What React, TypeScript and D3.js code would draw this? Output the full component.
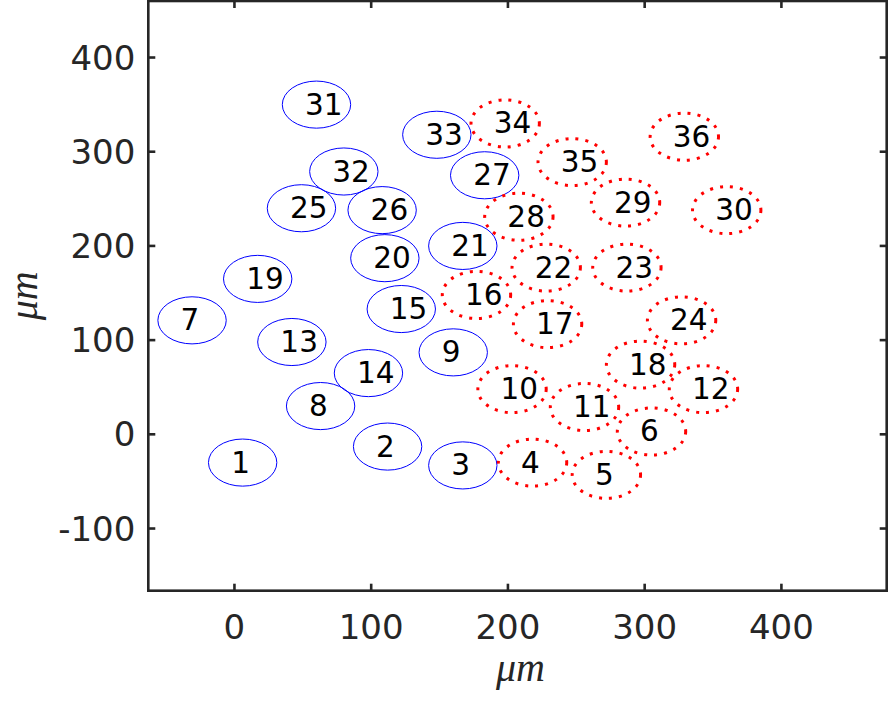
import React from 'react';
import * as d3 from 'd3';

// cell centres (µm)
const cellIds = [
  1, 2, 3, 4, 5, 6, 7, 8, 9, 10, 11, 12, 13, 14, 15, 16, 17, 18,
  19, 20, 21, 22, 23, 24, 25, 26, 27, 28, 29, 30, 31, 32, 33, 34, 35, 36,
];
const cellX = [
  6, 112, 167, 218, 272, 305, -31, 63, 160, 203, 256, 343, 42, 98, 122, 177, 229, 297,
  17, 110, 167, 228, 287, 327, 49, 108, 183, 208, 286, 360, 60, 80, 148, 198, 247, 329,
];
const cellY = [
  -30, -13, -33, -30, -43, 3, 121, 30, 87, 48, 29, 48, 98, 65, 133, 148, 117, 74,
  165, 187, 200, 177, 177, 121, 240, 238, 275, 231, 246, 238, 350, 279, 318, 330, 289, 316,
];
// 'a' = solid blue, 'b' = dotted red
const cellGroup = [
  'a', 'a', 'a', 'b', 'b', 'b', 'a', 'a', 'a', 'b', 'b', 'b', 'a', 'a', 'a', 'b', 'b', 'b',
  'a', 'a', 'a', 'b', 'b', 'b', 'a', 'a', 'a', 'b', 'b', 'b', 'a', 'a', 'a', 'b', 'b', 'b',
];
const cellRadius = 25;

const xTicks = [0, 100, 200, 300, 400];
const yTicks = [-100, 0, 100, 200, 300, 400];
const xDomain = [-63, 477];
const yDomain = [-166, 460];

export default function App() {
  const width = 891;
  const height = 703;
  const margin = { top: 1, right: 4.3, bottom: 112.3, left: 148.3 };
  const innerW = width - margin.left - margin.right;
  const innerH = height - margin.top - margin.bottom;

  const x = d3.scaleLinear().domain(xDomain).range([0, innerW]);
  const y = d3.scaleLinear().domain(yDomain).range([innerH, 0]);

  const axisColor = '#262626';
  const tickLen = 7;
  const font = 'DejaVu Sans, sans-serif';

  const cells = cellIds.map((id, i) => ({
    id,
    cx: x(cellX[i]),
    cy: y(cellY[i]),
    rx: x(cellX[i] + cellRadius) - x(cellX[i]),
    ry: y(cellY[i]) - y(cellY[i] + cellRadius),
    group: cellGroup[i],
  }));

  return (
    <svg
      width={width}
      height={height}
      style={{ position: 'absolute', left: 0, top: 0, background: '#fff' }}
    >
      <g transform={`translate(${margin.left},${margin.top})`}>
        {/* cells */}
        {cells.map(c => (
          <ellipse
            key={`e-${c.id}`}
            cx={c.cx}
            cy={c.cy}
            rx={c.rx}
            ry={c.ry}
            fill="none"
            stroke={c.group === 'a' ? '#0000ff' : '#ff0000'}
            strokeWidth={c.group === 'a' ? 1 : 3}
            strokeDasharray={c.group === 'a' ? undefined : '3 7'}
          />
        ))}
        {cells.map(c => (
          <text
            key={`t-${c.id}`}
            x={c.cx - 11.5}
            y={c.cy}
            dominantBaseline="central"
            fontFamily={font}
            fontSize={29.5}
            fill="#000"
          >
            {c.id}
          </text>
        ))}

        {/* box */}
        <rect x={0} y={0} width={innerW} height={innerH} fill="none" stroke={axisColor} strokeWidth={2.6} />

        {/* x ticks, bottom and top */}
        {xTicks.map(t => (
          <g key={`xt-${t}`}>
            <line x1={x(t)} x2={x(t)} y1={innerH} y2={innerH - tickLen} stroke={axisColor} strokeWidth={2.6} />
            <line x1={x(t)} x2={x(t)} y1={0} y2={tickLen} stroke={axisColor} strokeWidth={2.6} />
            <text
              x={x(t)}
              y={innerH + 48}
              textAnchor="middle"
              fontFamily={font}
              fontSize={34}
              fill={axisColor}
            >
              {t}
            </text>
          </g>
        ))}

        {/* y ticks, left and right */}
        {yTicks.map(t => (
          <g key={`yt-${t}`}>
            <line x1={0} x2={tickLen} y1={y(t)} y2={y(t)} stroke={axisColor} strokeWidth={2.6} />
            <line x1={innerW} x2={innerW - tickLen} y1={y(t)} y2={y(t)} stroke={axisColor} strokeWidth={2.6} />
            <text
              x={-13}
              y={y(t)}
              textAnchor="end"
              dominantBaseline="central"
              fontFamily={font}
              fontSize={34}
              fill={axisColor}
            >
              {t}
            </text>
          </g>
        ))}

        {/* axis labels */}
        <text
          x={innerW / 2 + 3}
          y={innerH + 90}
          textAnchor="middle"
          fontFamily="Liberation Serif, serif"
          fontStyle="italic"
          fontSize={40}
          fill={axisColor}
        >
          μm
        </text>
        <text
          transform={`translate(${-111},${innerH / 2}) rotate(-90)`}
          textAnchor="middle"
          fontFamily="Liberation Serif, serif"
          fontStyle="italic"
          fontSize={40}
          fill={axisColor}
        >
          μm
        </text>
      </g>
    </svg>
  );
}
